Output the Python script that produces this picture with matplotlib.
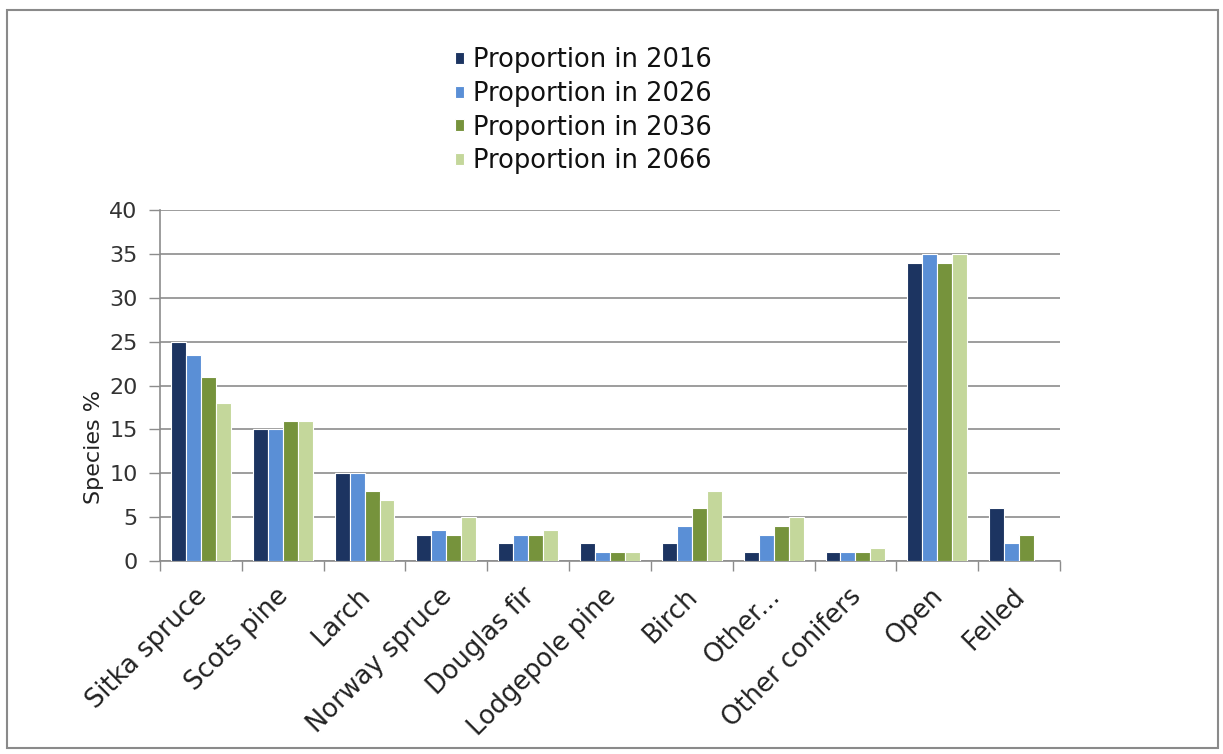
import matplotlib
matplotlib.use("Agg")
import matplotlib.pyplot as plt
import matplotlib.transforms as mtransforms
import numpy as np
from matplotlib.patches import Rectangle

categories = ["Sitka spruce", "Scots pine", "Larch", "Norway spruce", "Douglas fir",
              "Lodgepole pine", "Birch", "Other...", "Other conifers", "Open", "Felled"]
series_names = ["Proportion in 2016", "Proportion in 2026", "Proportion in 2036", "Proportion in 2066"]
p2016 = [25, 15, 10, 3, 2, 2, 2, 1, 1, 34, 6]
p2026 = [23.5, 15, 10, 3.5, 3, 1, 4, 3, 1, 35, 2]
p2036 = [21, 16, 8, 3, 3, 1, 6, 4, 1, 34, 3]
p2066 = [18, 16, 7, 5, 3.5, 1, 8, 5, 1.5, 35, 0]
yticks = [0, 5, 10, 15, 20, 25, 30, 35, 40]

colors = ["#1c3461", "#5a8fd6", "#76933c", "#c4d79b"]
series = [p2016, p2026, p2036, p2066]

fig = plt.figure(figsize=(12.23, 7.54), dpi=100)
ax = fig.add_axes([160/1223, 1-561/754, 900/1223, 351/754])

x = np.arange(len(categories))
w = 0.183
for i, (vals, c, name) in enumerate(zip(series, colors, series_names)):
    ax.bar(x + (i - 1.5) * w, vals, width=w, color=c, edgecolor="white",
           linewidth=0.8, label=name, zorder=3)

ax.set_xlim(-0.5, len(categories) - 0.5)
ax.set_ylim(0, 40)
ax.set_yticks(yticks)
ax.set_yticklabels([str(t) for t in yticks], fontsize=16, color="#333333")
ax.yaxis.grid(True, color="#8c8c8c", linewidth=1.2, zorder=0)
ax.set_axisbelow(True)

ax.set_xticks(x)
ax.set_xticklabels(categories, rotation=45, ha="right", rotation_mode="anchor",
                   fontsize=18.5, color="#222222")
ax.tick_params(axis="x", which="major", length=0, pad=16)
shift = mtransforms.ScaledTranslation(-7/100, 0, fig.dpi_scale_trans)
for lbl in ax.get_xticklabels():
    lbl.set_transform(lbl.get_transform() + shift)
ax.set_xticks(np.arange(-0.5, len(categories) + 0.5, 1), minor=True)
ax.tick_params(axis="x", which="minor", length=7, color="#8c8c8c", width=1)
ax.tick_params(axis="y", length=8, color="#8c8c8c", width=1, pad=8)

for s in ["top", "right"]:
    ax.spines[s].set_visible(False)
for s in ["left", "bottom"]:
    ax.spines[s].set_color("#8c8c8c")
    ax.spines[s].set_linewidth(1.2)

ax.set_ylabel("Species %", fontsize=16, color="#222222")
ax.yaxis.set_label_coords(-0.062, 0.325)

leg = fig.legend(loc="upper left", bbox_to_anchor=(432/1223, 1-24/754), frameon=False,
                 fontsize=18.5, handlelength=0.35, handleheight=0.35, handletextpad=0.35,
                 labelspacing=0.3)
for t in leg.get_texts():
    t.set_color("#111111")

fig.patches.append(Rectangle((7/1223, 6/754), 1211/1223, 1-16/754, transform=fig.transFigure,
                             fill=False, edgecolor="#8a8a8a", linewidth=1.5))

fig.savefig("out.png", dpi=100)
